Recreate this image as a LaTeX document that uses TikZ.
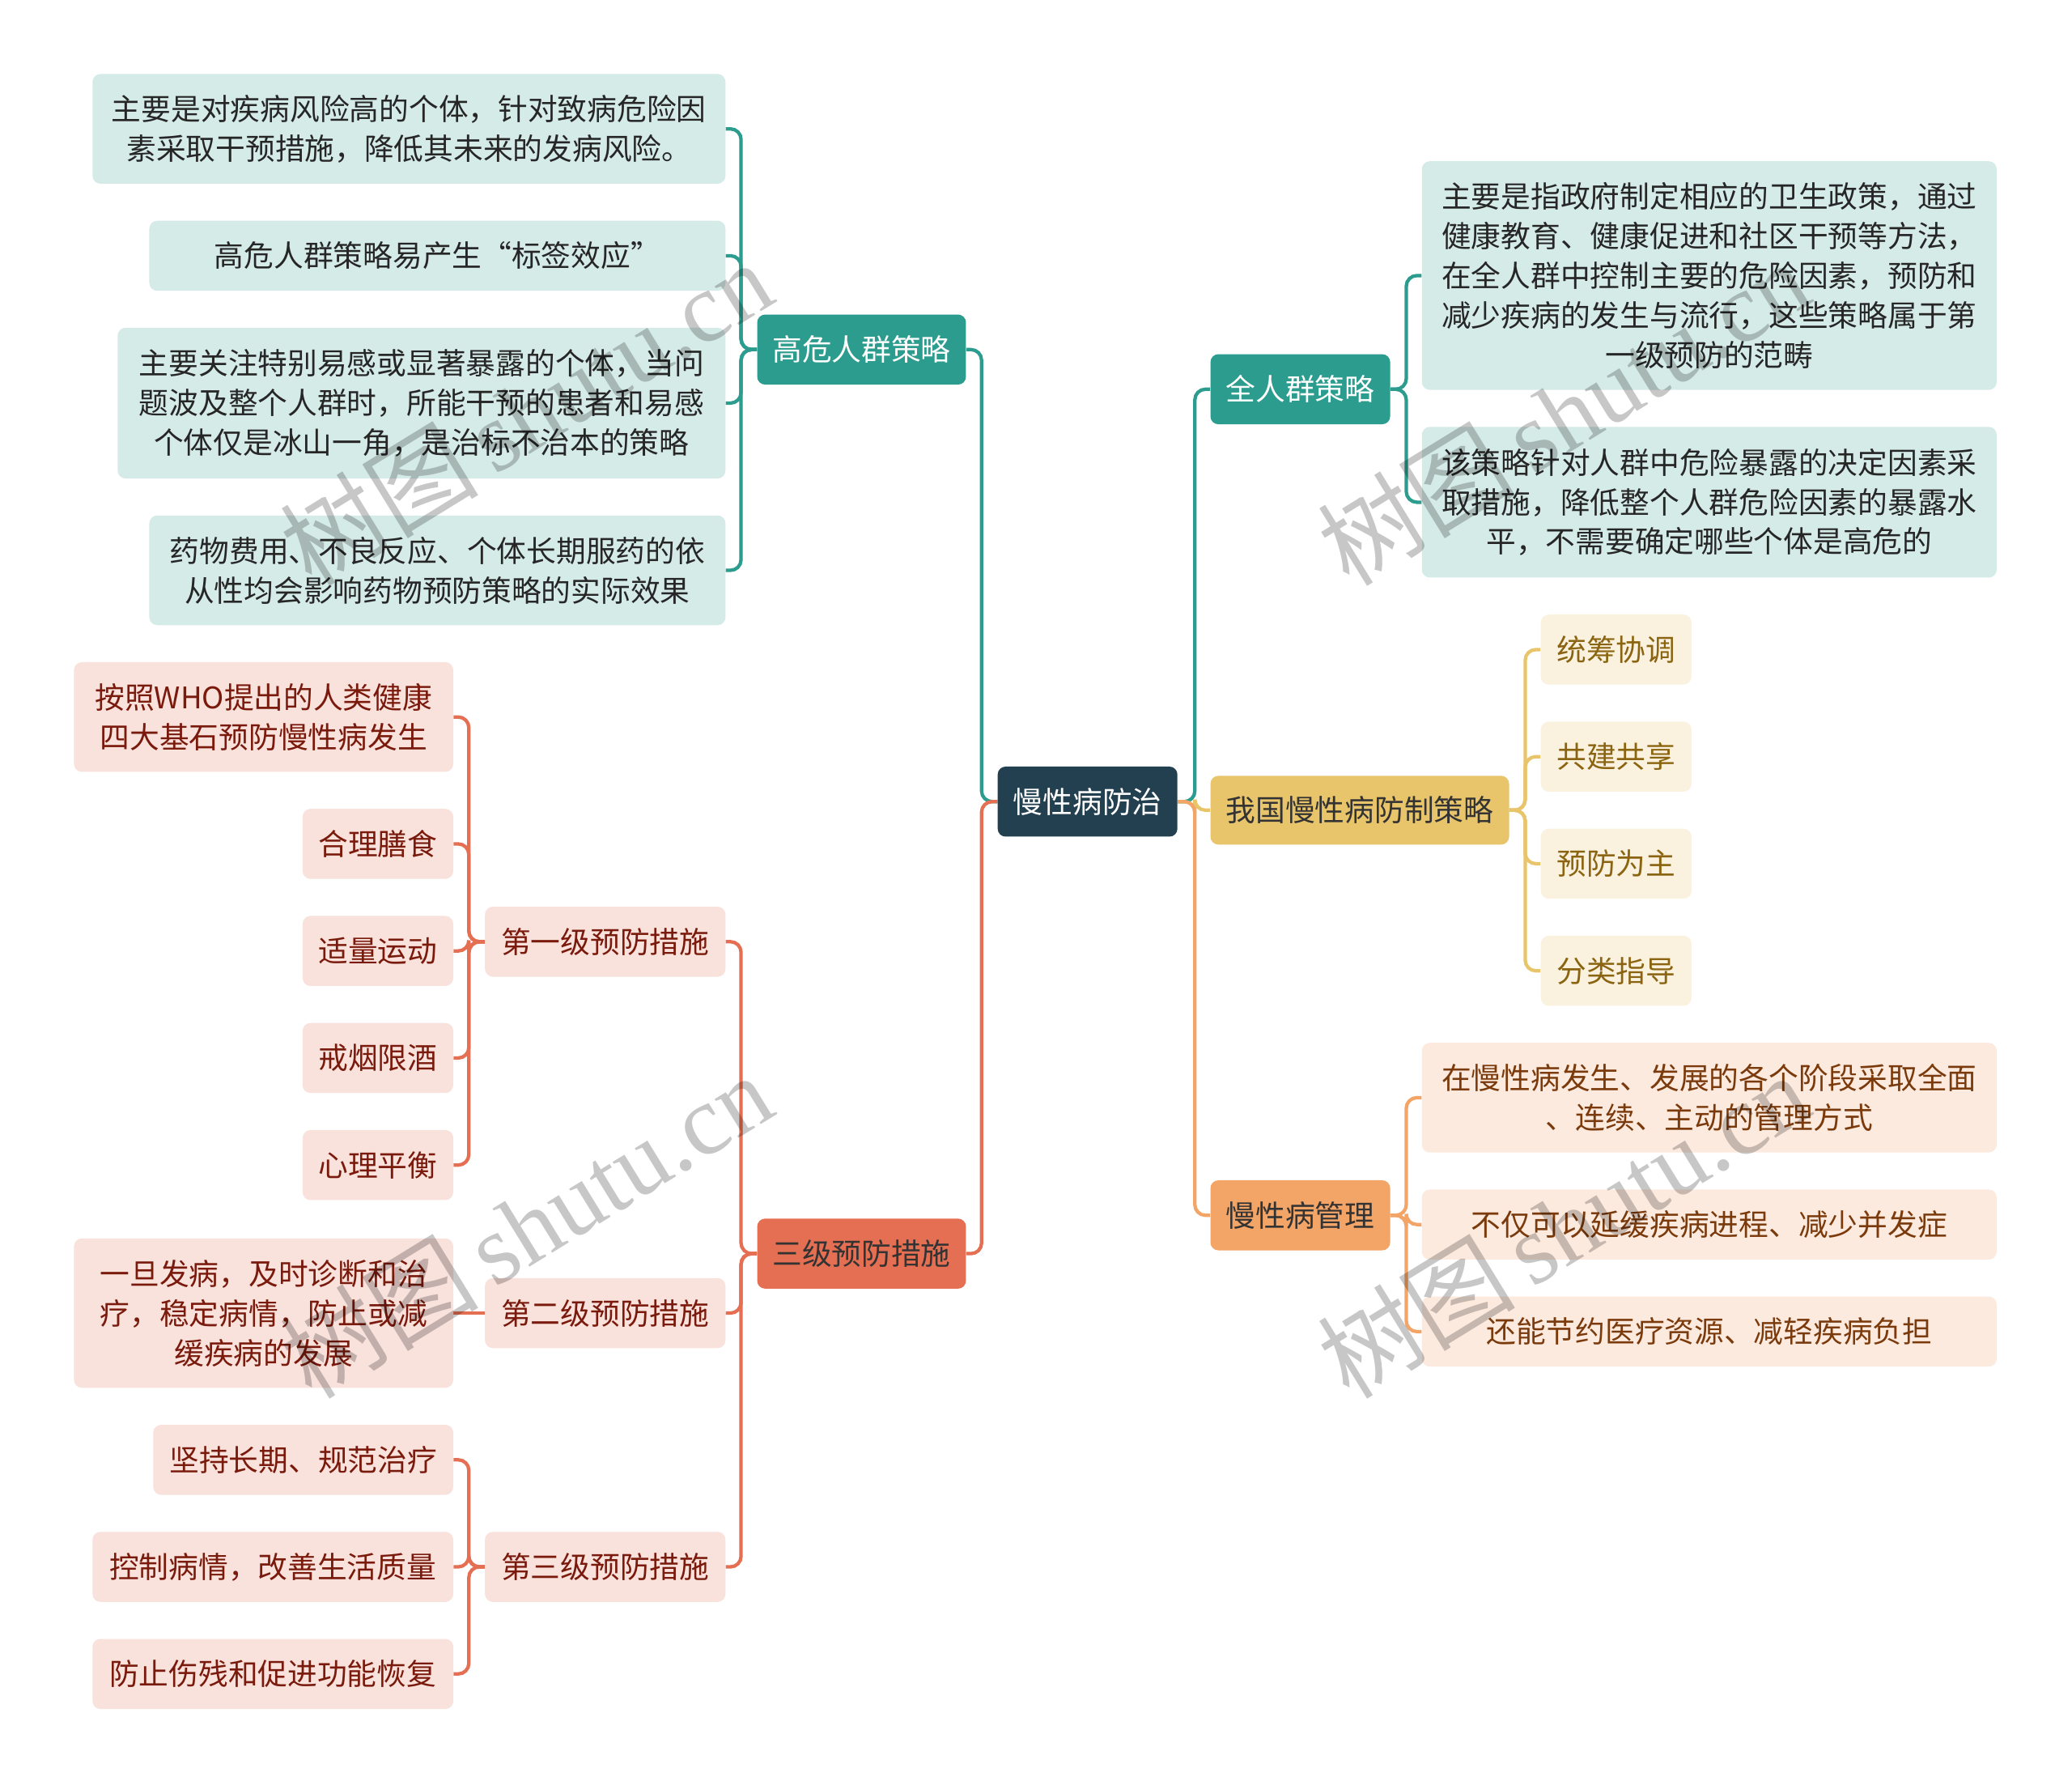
\documentclass[tikz,border=0pt]{standalone}
\usepackage{fontspec}
\setmainfont{Noto Sans CJK SC}
\newfontfamily\wmcjk{Noto Sans CJK SC}
\newfontfamily\wmlat{Liberation Serif}
\usetikzlibrary{calc}
\pgfdeclarelayer{bg}\pgfdeclarelayer{lines}
\pgfsetlayers{bg,lines,main}
\definecolor{rootc}{HTML}{22404F}
\definecolor{teal}{HTML}{2B9C8D}
\definecolor{tealL}{HTML}{D5EBE7}
\definecolor{yel}{HTML}{E8C46A}
\definecolor{yelL}{HTML}{FAF2DF}
\definecolor{yelT}{HTML}{8A6410}
\definecolor{ora}{HTML}{F3A467}
\definecolor{oraL}{HTML}{FDEADF}
\definecolor{oraT}{HTML}{7A3A0C}
\definecolor{cor}{HTML}{E56F52}
\definecolor{corL}{HTML}{F9E1DC}
\definecolor{corT}{HTML}{7A1A0C}
\newcommand\bx[7]{\node[box,#6,minimum width={(#4)-(#2)},minimum height={(#5)-(#3)}] (#1) at ({((#2)+(#4))/2},{((#3)+(#5))/2}) {#7};}
\tikzset{
  box/.style={rounded corners=6pt,inner sep=0pt,align=center,font=\fontsize{22.5}{30}\selectfont},
  rootbox/.style={fill=rootc,text=white},
  tealbox/.style={fill=teal,text=white},
  tealleaf/.style={fill=tealL,text=black!85},
  yelbox/.style={fill=yel,text=black!80},
  yelleaf/.style={fill=yelL,text=yelT},
  orabox/.style={fill=ora,text=black!80},
  oraleaf/.style={fill=oraL,text=oraT},
  corbox/.style={fill=cor,text=black!80},
  corleaf/.style={fill=corL,text=corT},
  conn/.style={line width=2.6pt,rounded corners=8pt},
  wm/.style={rotate=31.6,text=black,text opacity=0.22,font=\fontsize{75}{75}\selectfont}
}
\begin{document}
\begin{tikzpicture}[x=1pt,y=-1pt]
\begin{pgfonlayer}{bg}
\fill[white] (0,0) rectangle (1568,1350);
\end{pgfonlayer}
\useasboundingbox (0,0) rectangle (1568,1350);

% root and main branches
\bx{root}{755}{580}{891}{633}{rootbox}{慢性病防治}
\bx{qrq}{916}{268}{1052}{321}{tealbox}{全人群策略}
\bx{wg}{916}{587}{1142}{639}{yelbox}{我国慢性病防制策略}
\bx{mgl}{916}{893}{1052}{946}{orabox}{慢性病管理}
\bx{gw}{573}{238}{731}{291}{tealbox}{高危人群策略}
\bx{sj}{573}{922}{731}{975}{corbox}{三级预防措施}

% 全人群策略 leaves
\bx{q1}{1076}{122}{1511}{295}{tealleaf}{主要是指政府制定相应的卫生政策，通过\\健康教育、健康促进和社区干预等方法，\\在全人群中控制主要的危险因素，预防和\\减少疾病的发生与流行，这些策略属于第\\一级预防的范畴}
\bx{q2}{1076}{323}{1511}{437}{tealleaf}{该策略针对人群中危险暴露的决定因素采\\取措施，降低整个人群危险因素的暴露水\\平，不需要确定哪些个体是高危的}

% 我国 leaves
\bx{w1}{1166}{465}{1280}{518}{yelleaf}{统筹协调}
\bx{w2}{1166}{546}{1280}{599}{yelleaf}{共建共享}
\bx{w3}{1166}{627}{1280}{680}{yelleaf}{预防为主}
\bx{w4}{1166}{708}{1280}{761}{yelleaf}{分类指导}

% 慢性病管理 leaves
\bx{m1}{1076}{789}{1511}{872}{oraleaf}{在慢性病发生、发展的各个阶段采取全面\\、连续、主动的管理方式}
\bx{m2}{1076}{900}{1511}{953}{oraleaf}{不仅可以延缓疾病进程、减少并发症}
\bx{m3}{1076}{981}{1511}{1034}{oraleaf}{还能节约医疗资源、减轻疾病负担}

% 高危人群策略 leaves
\bx{g1}{70}{56}{549}{139}{tealleaf}{主要是对疾病风险高的个体，针对致病危险因\\素采取干预措施，降低其未来的发病风险。}
\bx{g2}{113}{167}{549}{220}{tealleaf}{高危人群策略易产生“标签效应”}
\bx{g3}{89}{248}{549}{362}{tealleaf}{主要关注特别易感或显著暴露的个体，当问\\题波及整个人群时，所能干预的患者和易感\\个体仅是冰山一角，是治标不治本的策略}
\bx{g4}{113}{390}{549}{473}{tealleaf}{药物费用、不良反应、个体长期服药的依\\从性均会影响药物预防策略的实际效果}

% 三级预防措施 children
\bx{s1}{367}{686}{549}{739}{corleaf}{第一级预防措施}
\bx{s2}{367}{967}{549}{1020}{corleaf}{第二级预防措施}
\bx{s3}{367}{1159}{549}{1212}{corleaf}{第三级预防措施}

\bx{a1}{56}{501}{343}{584}{corleaf}{按照WHO提出的人类健康\\四大基石预防慢性病发生}
\bx{a2}{229}{612}{343}{665}{corleaf}{合理膳食}
\bx{a3}{229}{693}{343}{746}{corleaf}{适量运动}
\bx{a4}{229}{774}{343}{827}{corleaf}{戒烟限酒}
\bx{a5}{229}{855}{343}{908}{corleaf}{心理平衡}

\bx{b1}{56}{937}{343}{1050}{corleaf}{一旦发病，及时诊断和治\\疗，稳定病情，防止或减\\缓疾病的发展}

\bx{c1}{116}{1078}{343}{1131}{corleaf}{坚持长期、规范治疗}
\bx{c2}{70}{1159}{343}{1212}{corleaf}{控制病情，改善生活质量}
\bx{c3}{70}{1240}{343}{1293}{corleaf}{防止伤残和促进功能恢复}

\begin{pgfonlayer}{lines}
% root left
\draw[conn,teal] (root.west) -- ++(-12,0) |- (gw.east);
\draw[conn,cor] (root.west) -- ++(-12,0) |- (sj.east);
% root right
\draw[conn,teal] (root.east) -- ++(13,0) |- (qrq.west);
\draw[conn,yel] (root.east) -- ++(13,0) |- (wg.west);
\draw[conn,ora] (root.east) -- ++(13,0) |- (mgl.west);
% gw leaves
\foreach \c in {g1,g2,g3,g4}
  \draw[conn,teal] (gw.west) -- ++(-12,0) |- (\c.east);
% qrq leaves
\foreach \c in {q1,q2}
  \draw[conn,teal] (qrq.east) -- ++(12,0) |- (\c.west);
% wg leaves
\foreach \c in {w1,w2,w3,w4}
  \draw[conn,yel] (wg.east) -- ++(12,0) |- (\c.west);
% mgl leaves
\foreach \c in {m1,m2,m3}
  \draw[conn,ora] (mgl.east) -- ++(12,0) |- (\c.west);
% sj children
\foreach \c in {s1,s2,s3}
  \draw[conn,cor] (sj.west) -- ++(-12,0) |- (\c.east);
\foreach \c in {a1,a2,a3,a4,a5}
  \draw[conn,cor] (s1.west) -- ++(-12,0) |- (\c.east);
\draw[conn,cor] (s2.west) -- (b1.east);
\foreach \c in {c1,c2,c3}
  \draw[conn,cor] (s3.west) -- ++(-12,0) |- (\c.east);
\end{pgfonlayer}

% watermarks
\node[wm] (wm1) at (398,312) {\wmcjk 树图\,\wmlat shutu.cn};
\node[wm] (wm2) at (1183,312) {\wmcjk 树图\,\wmlat shutu.cn};
\node[wm] (wm3) at (398,927) {\wmcjk 树图\,\wmlat shutu.cn};
\node[wm] (wm4) at (1183,927) {\wmcjk 树图\,\wmlat shutu.cn};
\end{tikzpicture}
\end{document}
